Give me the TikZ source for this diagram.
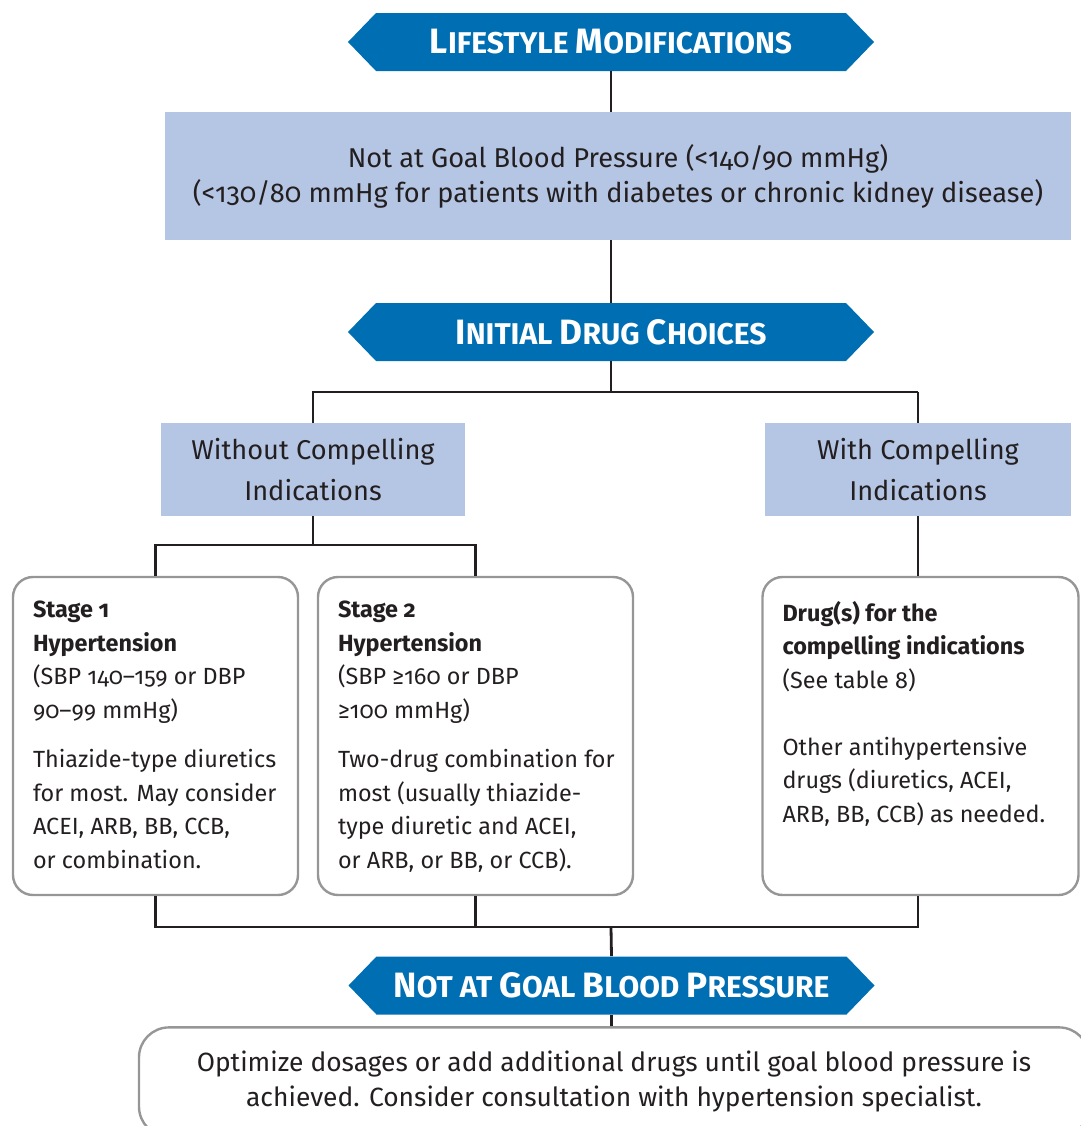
\documentclass[tikz,border=0pt]{standalone}
\usepackage{fontspec}
\setmainfont{Fira Sans}[Numbers=OldStyle]
\usetikzlibrary{calc}
\definecolor{bannerblue}{RGB}{0,110,178}
\definecolor{boxblue}{RGB}{181,197,228}
\definecolor{framegray}{RGB}{150,150,150}
\definecolor{ink}{RGB}{35,31,32}
\def\Cap#1{{\fontsize{17.6}{19}\selectfont #1}}
\def\Banner#1#2#3{%
 \node[banner] (#1) at (#2) {#3};
}
\def\Panel#1#2#3#4{%
 \node[panel] (#1) at (#2) {\parbox[c][135pt][t]{#3}{\raggedright #4}};
}
\tikzset{banner/.style={minimum width=263pt, minimum height=29pt, inner sep=0pt,
     text=white, fill=white, font=\fontsize{15}{17}\selectfont\bfseries,
     path picture={\fill[bannerblue] (path picture bounding box.west)
       -- ([xshift=14pt]path picture bounding box.north west)
       -- ([xshift=-14pt]path picture bounding box.north east)
       -- (path picture bounding box.east)
       -- ([xshift=-14pt]path picture bounding box.south east)
       -- ([xshift=14pt]path picture bounding box.south west) -- cycle;}},
  fillbox/.style={fill=boxblue, inner sep=0pt, align=center, text=ink,
     font=\fontsize{13.6}{20.5}\selectfont},
  panel/.style={draw=framegray, line width=1.2pt, rounded corners=10pt,
     inner xsep=10pt, inner ysep=12pt, text=ink,
     font=\fontsize{11.7}{16.75}\selectfont},
  conn/.style={draw=ink, line width=1.4pt},
  thin conn/.style={draw=ink, line width=0.9pt}
}
\begin{document}
\begin{tikzpicture}[x=0.5pt, y=-0.5pt]
\useasboundingbox (0,0) rectangle (1081,1126);
\clip (0,0) rectangle (1081,1126);
\Banner{ban1}{611,42}{\Cap{L}IFESTYLE \Cap{M}ODIFICATIONS}
\node[fillbox, minimum width=453pt, minimum height=64pt,
  font=\fontsize{13.6}{17.5}\selectfont] (goal) at (618,176)
  {Not at Goal Blood Pressure (<140/90 mmHg)\\(<130/80 mmHg for patients with diabetes or chronic kidney disease)};
\Banner{ban2}{611,332}{\Cap{I}NITIAL \Cap{D}RUG \Cap{C}HOICES}
\node[fillbox, minimum width=152pt, minimum height=46.5pt] (without) at (313,469.5)
  {Without Compelling\\Indications};
\node[fillbox, minimum width=153pt, minimum height=46.5pt] (with) at (918,469.5)
  {With Compelling\\Indications};
\Panel{stage1}{155.5,736}{122.5pt}{\textbf{Stage 1}\\\textbf{Hypertension}\\(SBP 140–159 or DBP\\90–99 mmHg)\\[8pt]Thiazide-type diuretics\\for most. May consider\\ACEI, ARB, BB, CCB,\\or combination.}
\Panel{stage2}{475.5,736}{137.5pt}{\textbf{Stage 2}\\\textbf{Hypertension}\\(SBP ≥160 or DBP\\≥100 mmHg)\\[8pt]\mbox{Two-drug combination for}\\most (usually thiazide-\\type diuretic and ACEI,\\or ARB, or BB, or CCB).}
\Panel{drugs}{920.5,736}{138pt}{\textbf{Drug(s) for the}\\\textbf{compelling indications}\\(See table 8)\\[16.75pt]Other antihypertensive\\drugs (diuretics, ACEI,\\ARB, BB, CCB) as needed.}
\Banner{ban3}{611.5,985.5}{\Cap{N}OT AT \Cap{G}OAL \Cap{B}LOOD \Cap{P}RESSURE}
\node[panel, rounded corners=15pt, minimum width=475pt, minimum height=50pt,
  align=center, font=\fontsize{13.2}{17.5}\selectfont] (final) at (614,1082)
  {Optimize dosages or add additional drugs until goal blood pressure is\\achieved. Consider consultation with hypertension specialist.};
\coordinate (split1) at (611,392);
\coordinate (split2) at (313,545);
\coordinate (merge) at (611,927);
\draw[conn] (ban1.south) -- (ban1.south |- goal.north);
\draw[conn] (goal.south -| ban2.north) -- (ban2.north);
\draw[conn] (ban2.south) -- (split1);
\draw[conn] (without.north) |- (split1) -- (split1 -| with.north);
\draw[thin conn] (split1 -| with.north) -- (with.north);
\draw[conn] (without.south) -- (split2);
\draw[conn] (stage1.north) |- (split2) -| (stage2.north);
\draw[thin conn] (with.south) -- (with.south |- drugs.north);
\draw[conn] (stage1.south) |- (merge);
\draw[conn] (stage2.south) -- (stage2.south |- merge);
\draw[conn] (merge) -| (with.south |- drugs.south);
\draw[conn] (merge) -- (ban3.north);
\draw[conn] (ban3.south) -- (ban3.south |- final.north);
\end{tikzpicture}
\end{document}
